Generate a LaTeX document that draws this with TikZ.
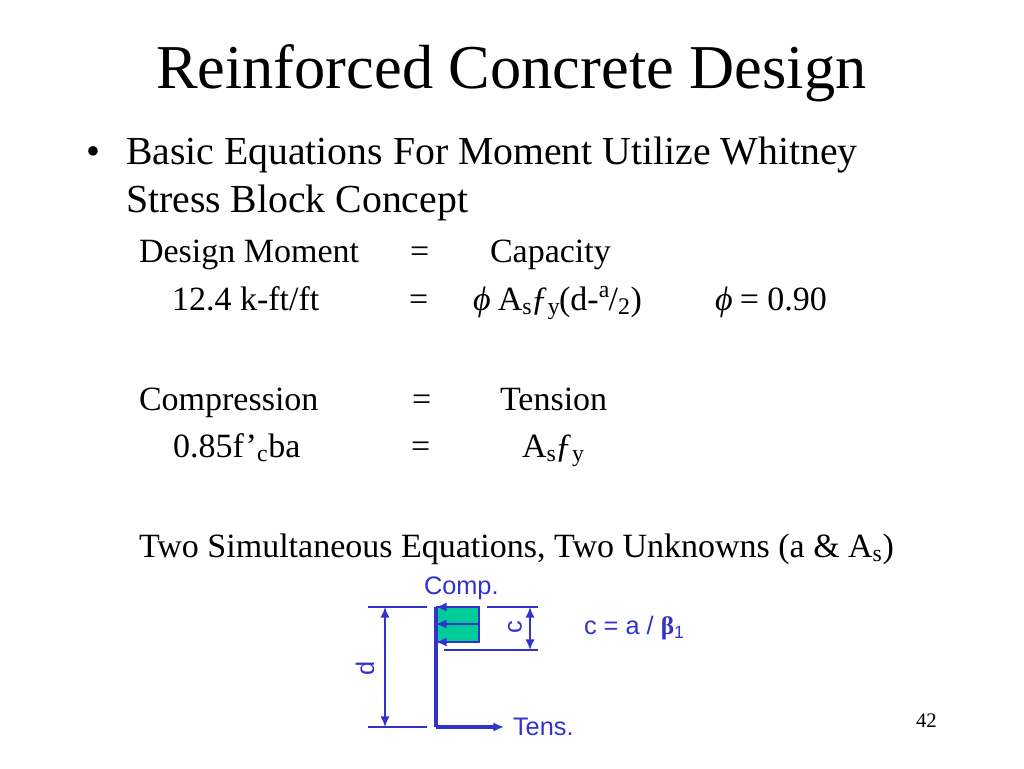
\documentclass[tikz,border=0pt]{standalone}
\usepackage{fontspec}
\setmainfont{Liberation Serif}
\setsansfont{Liberation Sans}
\usetikzlibrary{arrows.meta}
\definecolor{inkblue}{HTML}{3333CC}
\definecolor{blockgreen}{HTML}{00CC99}
\newcommand{\fy}{\textit{ƒ}}
\newcommand{\phisym}{\textit{ϕ}}
\tikzset{
  txt/.style={anchor=base west,inner sep=0pt,outer sep=0pt},
  headline/.style={txt,font=\fontsize{46.8}{47}\selectfont},
  bigline/.style={txt,font=\fontsize{29.8}{30}\selectfont},
  eqline/.style={txt,font=\fontsize{25.5}{26}\selectfont},
  tag/.style={txt,text=inkblue,font=\sffamily\fontsize{19}{19}\selectfont},
  dimline/.style={draw=inkblue,line width=1.2pt},
  dimarrow/.style={draw=inkblue,line width=1.2pt,{Latex[length=8pt,width=7pt]}-{Latex[length=8pt,width=7pt]}},
  force/.style={draw=inkblue,line width=1.8pt,-{Latex[length=8pt,width=7pt]}}
}
\begin{document}
\begin{tikzpicture}[x=.75pt,y=.75pt,yscale=-1]
        \useasboundingbox (0,0) rectangle (1024,768);
        \node[headline] (title) at (156,88) {Reinforced Concrete Design};
        \node[bigline] (bullet) at (86,164) {•};
        \node[bigline] (basic) at (126,164) {Basic Equations For Moment Utilize Whitney};
        \node[bigline] (stress) at (126,212) {Stress Block Concept};
        % first pair of equations
        \node[eqline] (moment) at (139,262) {Design Moment};
        \node[eqline] (eqa) at (410,262) {=};
        \node[eqline] (capacity) at (490,262) {Capacity};
        \node[eqline] (value) at (172,310) {12.4 k-ft/ft};
        \node[eqline] (eqb) at (409,310) {=};
        \node[eqline] (formula) at (473,310) {\phisym{}\kern-1pt{} A\textsubscript{s}\kern-1pt\fy\textsubscript{y}\kern-1pt(d-\textsuperscript{a}\kern-1pt/\textsubscript{2})};
        \node[eqline] (factor) at (715,310) {\phisym{}\kern-1pt{} = 0.90};
        % second pair
        \node[eqline] (compr) at (139,410) {Compression};
        \node[eqline] (eqc) at (412,410) {=};
        \node[eqline] (tension) at (500,410) {Tension};
        \node[eqline] (conc) at (173,457) {0.85f’\textsubscript{c}ba};
        \node[eqline] (eqd) at (411,457) {=};
        \node[eqline] (steel) at (522,457) {A\textsubscript{s}\kern-1pt\fy\textsubscript{y}};
        \node[eqline] (unknowns) at (139,557) {Two Simultaneous Equations, Two Unknowns (a \& A\textsubscript{s})};
        % stress block
        \coordinate (blocktop) at (436,607);
        \coordinate (blockmid) at (436,624);
        \coordinate (blockbot) at (436,642);
        \coordinate (stembot) at (436,727);
        \coordinate (tensend) at (504,727);
        \coordinate (blockcor) at (479,642);
        \coordinate (righttop) at (479,607);
        \coordinate (rightmid) at (479,624);
        \fill[blockgreen] (blocktop) rectangle (blockcor);
        \draw[inkblue,line width=1.8pt] (blocktop) -- (righttop) -- (blockcor) -- (blockbot);
        \draw[force] (righttop) -- (blocktop);
        \draw[force] (rightmid) -- (blockmid);
        \draw[force] (blockcor) -- (blockbot);
        \draw[inkblue,line width=2.6pt] (blocktop) -- (stembot);
        \draw[force,line width=2.6pt] (stembot) -- (tensend);
        % dimension lines
        \coordinate (dtopa) at (368,607);
        \coordinate (dtopb) at (427,607);
        \coordinate (dbota) at (368,727);
        \coordinate (dbotb) at (427,727);
        \coordinate (darra) at (385,607);
        \coordinate (darrb) at (385,727);
        \coordinate (ctopa) at (487,607);
        \coordinate (ctopb) at (538,607);
        \coordinate (cbota) at (444,650);
        \coordinate (cbotb) at (538,650);
        \coordinate (carra) at (530,607);
        \coordinate (carrb) at (530,650);
        \draw[dimline] (dtopa) -- (dtopb);
        \draw[dimline] (dbota) -- (dbotb);
        \draw[dimline] (ctopa) -- (ctopb);
        \draw[dimline] (cbota) -- (cbotb);
        \draw[dimarrow] (darra) -- (darrb);
        \draw[dimarrow] (carra) -- (carrb);
        % labels of the sketch
        \node[tag] (comp) at (424,594) {Comp.};
        \node[tag] (tens) at (513,735) {Tens.};
        \node[tag] (relation) at (584,634) {c = a / {\rmfamily\bfseries β}\textsubscript{1}};
        \node[tag,anchor=center,rotate=90] (clabel) at (515,627) {c};
        \node[tag,anchor=center,rotate=90] (dlabel) at (365,668) {d};
        \node[txt,font=\fontsize{15.5}{16}\selectfont] (page) at (916,727) {42};
      \end{tikzpicture}
\end{document}
